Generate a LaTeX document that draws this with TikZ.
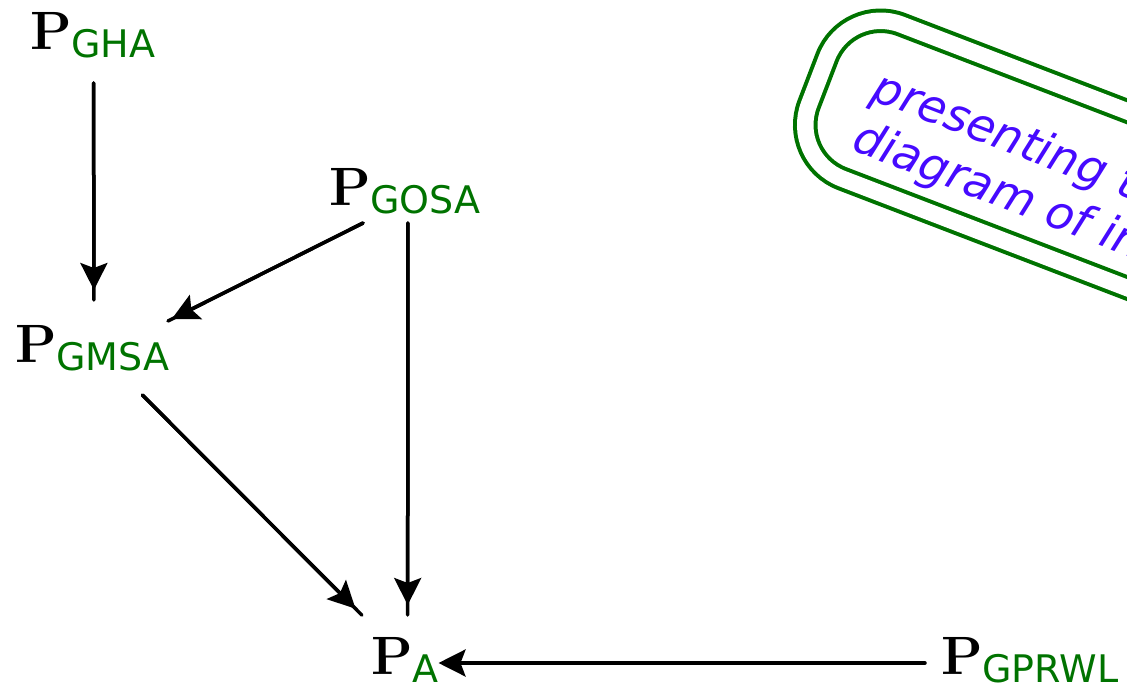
\documentclass[tikz,border=0pt]{standalone}
\usepackage{fontspec}
\newfontfamily\boxfont{DejaVu Sans}
\newfontfamily\subfont{DejaVu Sans}
\usetikzlibrary{arrows.meta}
\definecolor{pgreen}{RGB}{0,115,0}
\definecolor{pblue}{RGB}{70,10,255}
\newcommand{\PP}[1]{\fontsize{54}{60}\selectfont\textbf{P}\raisebox{-8pt}{\fontsize{38}{42}\selectfont\subfont\color{pgreen}#1}}
\begin{document}
\begin{tikzpicture}[x=1pt,y=-1pt,
  pn/.style={inner sep=0pt, outer sep=0pt, text height=37pt, text depth=15pt, anchor=base west},
  ln/.style={line width=3.5pt, line cap=round},
  tip/.style={line width=3.5pt, line cap=round, -{Stealth[length=27pt,width=27pt,inset=5pt]}},
  bubble/.style={draw=pgreen, line width=4pt, double=white, double distance=16.5pt,
    rounded corners=57.5pt, rotate=-21, anchor=west, outer sep=0pt, inner xsep=55pt,
    inner ysep=0pt, minimum height=165pt, align=left, text=pblue,
    font=\boxfont\itshape\fontsize{46}{54}\selectfont}]
\useasboundingbox (0,0) rectangle (1127,685);
\clip (0,0) rectangle (1127,685);
% nodes
\node[pn] (gha)   at (30,50)   {\PP{GHA}};
\node[pn] (gosa)  at (329,205) {\PP{GOSA}};
\node[pn] (gmsa)  at (15,362)  {\PP{GMSA}};
\node[pn] (a)     at (371,674) {\PP{A}};
\node[pn] (gprwl) at (941,674) {\PP{GPRWL}};
% bubble
\node[bubble] (box) at (818,81) {\rule{0pt}{61pt}presenting the\\diagram of interactions};
% connectors: full line, then the arrow tip a little before the line end
\draw[ln, shorten <=18pt, shorten >=25pt] ([xshift=0.8pt]gha.south) -- ([xshift=1.7pt]gmsa.north);
\draw[tip, shorten <=18pt, shorten >=35pt] ([xshift=0.8pt]gha.south) -- ([xshift=1.7pt]gmsa.north);
\draw[ln, shorten <=3pt, shorten >=22pt] ([xshift=3.1pt]gosa.south) -- ([xshift=2.9pt]a.north);
\draw[tip, shorten <=3pt, shorten >=32pt] ([xshift=3.1pt]gosa.south) -- ([xshift=2.9pt]a.north);
\draw[ln, shorten <=6.7pt, shorten >=8.9pt] (gosa.216.8) -- (gmsa.21.6);
\draw[tip, shorten <=6.7pt, shorten >=13pt] (gosa.216.8) -- (gmsa.21.6);
\draw[ln, shorten <=25.5pt, shorten >=31pt] (gmsa.-39.4) -- (a.129.6);
\draw[tip, shorten <=25.5pt, shorten >=40pt] (gmsa.-39.4) -- (a.129.6);
\draw[tip, shorten <=16pt, shorten >=0pt] (gprwl.west) -- (a.east);
\end{tikzpicture}
\end{document}
